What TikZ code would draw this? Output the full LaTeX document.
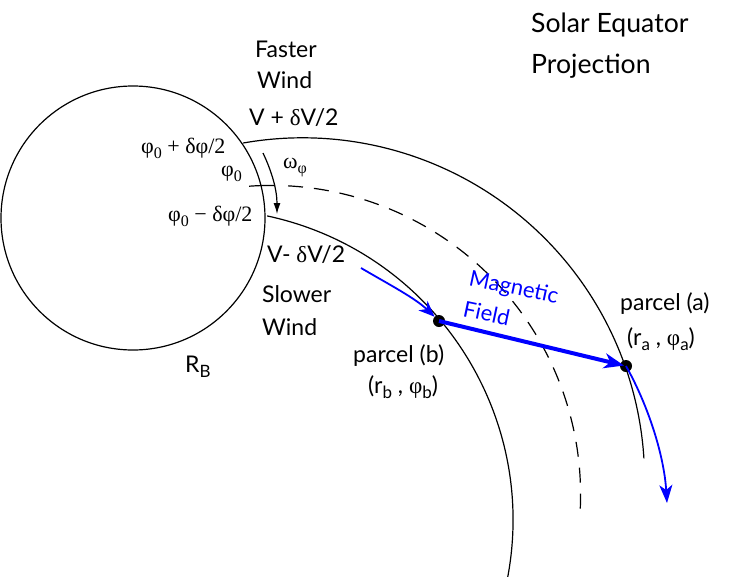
\documentclass[tikz,border=0pt]{standalone}
\usepackage{fontspec}
\setmainfont{Lato}
\newfontfamily\gr{Liberation Serif}
\usetikzlibrary{arrows.meta}
\newcommand{\lsub}[1]{\raisebox{-5pt}{\fontsize{17}{17}\selectfont #1}}
\newcommand{\gsub}[1]{\raisebox{-5pt}{\fontsize{16}{16}\selectfont #1}}
\begin{document}
\begin{tikzpicture}[x=1pt,y=-1pt,
  lbl/.style={font=\fontsize{23}{23}\selectfont, inner sep=0pt, anchor=base west},
  ttl/.style={font=\fontsize{26.6}{26.6}\selectfont, inner sep=0pt, anchor=base west},
  ser/.style={font=\gr\fontsize{22}{22}\selectfont, inner sep=0pt, anchor=base west},
  mag/.style={font=\fontsize{22}{22}\selectfont, inner sep=0pt, anchor=base west, text=blue, rotate=-12},
  curve/.style={line width=1.2pt},
  dot/.style={circle, fill=black, inner sep=0pt, minimum size=12pt},
  blueline/.style={blue, line width=1.8pt},
]
\useasboundingbox (0,0) rectangle (747,576);
% Sun circle
\draw[curve] (133,218) circle (132);
% field lines (arcs)
\draw[curve] ([shift={(302.6,479.8)}]-100:342) arc[start angle=-100, end angle=-3.6, radius=342];
\draw[curve] ([shift={(202,520)}]-77.9:311) arc[start angle=-77.9, end angle=12, radius=311];
\draw[curve] ([shift={(271.3,494.7)}]-94.1:309.3) arc[start angle=-94.1, end angle=-89.3, radius=309.3];
\draw[curve, dash pattern=on 15pt off 11pt] ([shift={(271.3,494.7)}]-86.9:309.3) arc[start angle=-86.9, end angle=3.2, radius=309.3];
% rotation arrow
\coordinate (w0) at (263,153);
\coordinate (w1) at (277,214);
\draw[line width=1.2pt, -{Latex[length=11pt,width=7pt]}] (w0) .. controls (272,172) and (277,190) .. (w1);
% parcels
\node[dot] (pb) at (439,321) {};
\node[dot] (pa) at (626,366) {};
% magnetic field
\draw[blue, line width=4pt, -{Stealth[length=20pt,width=15pt,inset=6pt]}, shorten >=2pt] (pb.center) -- (pa.center);
\coordinate (inb) at (361,268);
\draw[blueline, -{Stealth[length=16pt,width=13pt,inset=5pt]}] (inb) .. controls (390,285) and (415,298) .. (pb);
\coordinate (outa) at (667,503);
\draw[blueline, -{Stealth[length=18pt,width=13pt,inset=5pt]}] (pa.center) .. controls (648,405) and (664,455) .. (outa);
% labels
\node[ttl] (t1) at (531,32) {Solar Equator};
\node[ttl] (t2) at (531,73) {Projection};
\node[lbl] (f1) at (255,57) {Faster};
\node[lbl] (f2) at (257,88) {Wind};
\node[lbl] (f3) at (249,125) {V + {\gr δ}V/2};
\node[lbl] (s0) at (267,262) {V- {\gr δ}V/2};
\node[lbl] (s1) at (262,302) {Slower};
\node[lbl] (s2) at (262,335) {Wind};
\node[ser] (p1) at (141,153) {φ\gsub{0} + δφ/2};
\node[ser] (p2) at (221,176) {φ\gsub{0}};
\node[ser] (p3) at (168,221) {φ\gsub{0} − δφ/2};
\node[ser] (om) at (283,168) {ω\gsub{φ}};
\node[lbl] (rb) at (185,372) {R\lsub{B}};
\node[lbl] (lb1) at (353,362) {parcel (b)};
\node[lbl] (lb2) at (368,393) {(r\lsub{b} , {\gr φ}\lsub{b})};
\node[lbl] (la1) at (620,310) {parcel (a)};
\node[lbl] (la2) at (627,345) {(r\lsub{a} , {\gr φ}\lsub{a})};
\node[mag] (m1) at (468,285) {Magnetic};
\node[mag] (m2) at (462,316) {Field};
\end{tikzpicture}
\end{document}
